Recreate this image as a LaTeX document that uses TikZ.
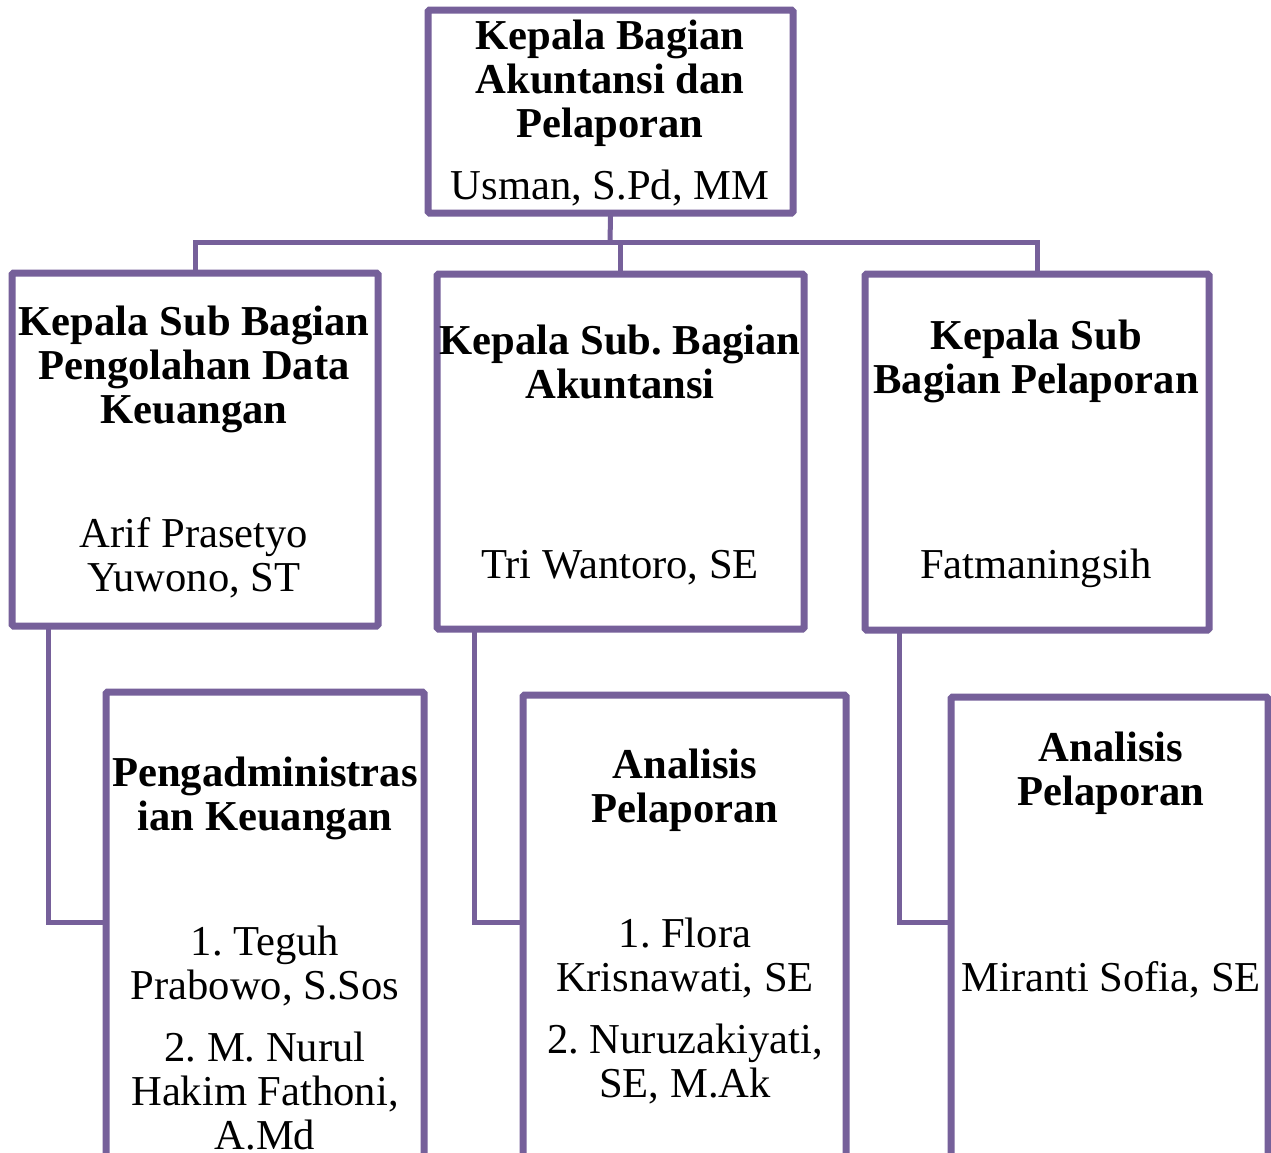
\documentclass[tikz,border=0pt]{standalone}
\usepackage{fontspec}
\setmainfont{Liberation Serif}
\usetikzlibrary{shadows}
\definecolor{frame}{HTML}{76609A}
\frenchspacing
\begin{document}
\begin{tikzpicture}[x=1pt,y=-1pt,
  box/.style={draw=frame,line width=7pt,fill=white,rectangle,inner sep=0pt,rounded corners=1.5pt,
    drop shadow={shadow xshift=2.5pt,shadow yshift=-2.5pt,opacity=0.25,fill=black}},
  conn/.style={draw=frame,line width=5pt,line cap=rect},
  ttl/.style={font=\fontsize{42.6}{44}\selectfont\bfseries,align=center,inner sep=0pt},
  nm/.style={font=\fontsize{42.6}{44}\selectfont,align=center,inner sep=0pt}]
\useasboundingbox (0,0) rectangle (1271,1152);
\clip (0,0) rectangle (1271,1152);
\fill[white] (0,0) rectangle (1271,1152);
\coordinate (bus) at (610,242);
% boxes
\node[box,minimum width=365pt,minimum height=203pt] (top) at (610.5,111.5) {};
\node[box,minimum width=366pt,minimum height=353pt] (b1) at (195,449.5) {};
\node[box,minimum width=367pt,minimum height=355pt] (b2) at (620.5,451.5) {};
\node[box,minimum width=344pt,minimum height=356pt] (b3) at (1037,452) {};
\coordinate (c1) at (48,922);
\coordinate (c2) at (474,922);
\coordinate (c3) at (899,922);
\node[box,minimum width=318pt,minimum height=508pt] (b4) at (265,946) {};
\node[box,minimum width=323pt,minimum height=505pt] (b5) at (684.5,947.5) {};
\node[box,minimum width=317pt,minimum height=503pt] (b6) at (1109.5,948.5) {};
% connectors
\draw[conn] (top.south) -- (bus);
\draw[conn] (b1.north) |- (bus);
\draw[conn] (b3.north) |- (bus);
\draw[conn] (b2.north) |- (bus);
\draw[conn] (b1.south -| c1) -- (c1) -- (c1 -| b4.west);
\draw[conn] (b2.south -| c2) -- (c2) -- (c2 -| b5.west);
\draw[conn] (b3.south -| c3) -- (c3) -- (c3 -| b6.west);
% texts
\node[ttl] (t0) at (610,83) {Kepala Bagian\\Akuntansi dan\\Pelaporan};
\node[nm] (n0) at (610,188) {Usman, S.Pd, MM};
\node[ttl] (t1) at (194,369) {Kepala Sub Bagian\\Pengolahan Data\\Keuangan};
\node[nm] (n1) at (194,558) {Arif Prasetyo\\Yuwono, ST};
\node[ttl] (t2) at (620,361.5) {Kepala Sub. Bagian\\Akuntansi};
\node[nm] (n2) at (620,568) {Tri Wantoro, SE};
\node[ttl] (t3) at (1036,361.5) {Kepala Sub\\Bagian Pelaporan};
\node[nm] (n3) at (1036,568) {Fatmaningsih};
\node[ttl] (t4) at (265,798) {Pengadministras\\ian Keuangan};
\node[nm] (n4a) at (265,965.5) {1. Teguh\\Prabowo, S.Sos};
\node[nm] (n4b) at (265,1091) {2. M. Nurul\\Hakim Fathoni,\\A.Md};
\node[ttl] (t5) at (685,790) {Analisis\\Pelaporan};
\node[nm] (n5a) at (685,958) {1. Flora\\Krisnawati, SE};
\node[nm] (n5b) at (685,1063.5) {2. Nuruzakiyati,\\SE, M.Ak};
\node[ttl] (t6) at (1111,773.5) {Analisis\\Pelaporan};
\node[nm] (n6) at (1111,980) {Miranti Sofia, SE};
\end{tikzpicture}
\end{document}
